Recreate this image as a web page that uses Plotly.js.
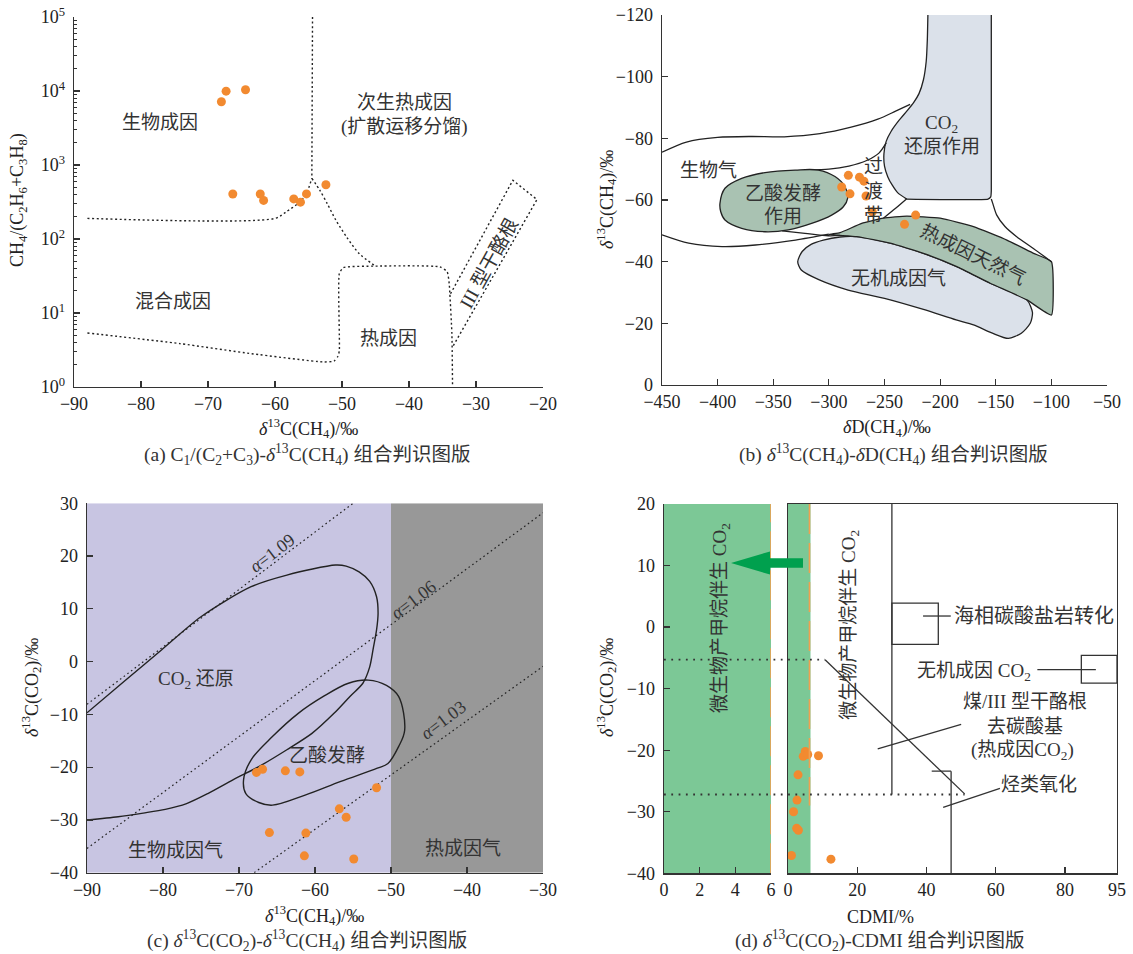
<!DOCTYPE html>
<html><head><meta charset="utf-8">
<script src="https://cdn.plot.ly/plotly-3.0.1.min.js"></script>
<style>html,body{margin:0;padding:0;background:#fff}</style>
</head><body><div id="chart" style="width:1133px;height:954px"></div>
<script>
// ---------- Panel (a) data ----------
const aCH4 = [-68.0,-67.3,-64.4,-66.3,-62.2,-61.7,-57.2,-56.2,-55.3,-52.4];
const aRatio = [7150,9950,10400,405,405,332,348,315,407,540];
// boundary lines (a)
const aL1x = [-88,-60,-58.3,-56.3,-55.3,-54.5];
const aL1y = [190,190,234,316,417,660];
const aL2x = [-54.4,-54.5];
const aL2y = [100000,660];
const aL3x = [-54.5,-53.3,-52.2,-50.9,-49.3,-47.4,-45.0];
const aL3y = [660,455,300,179,106,63,43];
const aL4x = [-88,-74.2,-63.5,-52.8,-51.2,-50.6,-50.4,-50.4,-49.8,-45.0,-35.4,-34.3,-34.0,-33.9,-33.6,-33.5];
const aL4y = [5.37,3.86,2.82,2.18,2.24,2.6,3.1,34,41,43,42,36,25,18,5.3,1];
const aL5x = [-33.8,-24.5,-20.9,-33.5];
const aL5y = [18.2,621,341,3.47];
const aYTickVals = [1,10,100,1000,10000,100000];
const aYTickText = ['10<sup>0</sup>','10<sup>1</sup>','10<sup>2</sup>','10<sup>3</sup>','10<sup>4</sup>','10<sup>5</sup>'];

// ---------- Panel (b) data ----------
const bD = [-282.5,-272.5,-268.5,-288.5,-281.0,-266.6,-261.0,-222.0,-232.0];
const bC = [-68.0,-67.4,-66.1,-64.2,-62.0,-61.3,-56.2,-55.1,-52.1];
const bOuterX = [-450,-428,-400,-370,-340,-308,-280,-256,-240,-227];
const bOuterY = [-75.5,-78.8,-80.3,-80.6,-80.5,-81.5,-83.6,-86.2,-88.8,-91.0];
const bInnerX = [-318,-300,-282,-266,-255,-248.5];
const bInnerY = [-69.8,-70.0,-71.0,-72.8,-75.2,-78.5];
const bLowerX = [-450,-426,-396,-366,-330,-300];
const bLowerY = [-48.7,-46.0,-44.9,-45.4,-47.0,-48.9];
const bTransX = [-230,-240,-251];
const bTransY = [-60.4,-57.3,-54.1];
const bRightX = [-154,-152.7,-149.1,-141.7,-131.2,-116.2,-100];
const bRightY = [-60.3,-58.9,-55.1,-51.4,-48.1,-44.3,-40.0];
const bAcetLineX = [-342,-321.5,-300.5,-290];
const bAcetLineY = [-50.0,-49.2,-48.4,-48.5];
const bThermX = [-300,-290,-270.5,-251,-230,-200,-170,-140,-116,-100,-100,-122,-155,-185,-215,-245,-275,-300];
const bThermY = [-48.8,-49.4,-52.4,-54.1,-54.8,-54.1,-51.4,-47.0,-42.7,-40.0,-22.7,-27.6,-33.0,-38.4,-42.7,-46.0,-48.1,-48.8];
// CO2-reduction field: curved left edge (top -> bottom corner), then straight bottom and right edge
const bCO2LeftX = [-211,-211.5,-212.5,-215,-219,-224,-230,-237,-244,-248.5,-250.5,-250,-247,-243,-238,-230];
const bCO2LeftY = [-120,-112,-105,-99,-94.5,-91.5,-88.8,-85.8,-82.3,-79,-75,-71,-67.5,-64.8,-62.3,-60.3];
const bCO2EdgeX = [-230,-157,-154.5,-154,-154];
const bCO2EdgeY = [-60.3,-60.3,-61,-63,-120];
const bInorgX = [-328,-324,-316,-305,-290,-275,-245,-215,-185,-155,-122,-117,-119,-127,-138.7,-153,-170,-185.6,-215,-250,-282.7,-308.6,-324.8,-328];
const bInorgY = [-40.0,-43.3,-45.6,-47.0,-48.0,-48.1,-46.0,-42.7,-38.4,-33.0,-27.6,-23.5,-20.0,-16.8,-15.1,-16.8,-19.5,-21.1,-24.5,-28.1,-30.8,-34.1,-37.3,-40.0];
const bAcetX = [-397.9,-393.4,-378.4,-357.4,-330.4,-309.5,-294.5,-285.5,-283.1,-287.0,-297.5,-315.5,-336.5,-357.4,-378.4,-393.4,-397.2,-397.9];
const bAcetY = [-58.9,-63.8,-67.0,-68.9,-69.7,-69.7,-67.6,-64.3,-60.6,-57.8,-55.1,-52.4,-50.3,-49.7,-50.8,-53.5,-56.2,-58.9];

// ---------- Panel (c) data ----------
const cCH4 = [-67.7,-66.9,-63.9,-62.0,-51.9,-56.8,-55.9,-66.0,-61.2,-61.4,-54.9];
const cCO2 = [-21.0,-20.4,-20.7,-20.9,-23.9,-27.9,-29.5,-32.4,-32.5,-36.8,-37.4];
const cCO2LoopX = [-90,-84.9,-80.2,-75,-68.4,-63.7,-57.3,-55.9,-54.2,-52.8,-51.9,-51.7,-51.9,-52.3,-52.8,-53.7,-55.4,-57.5,-60.4,-63.7,-67.4,-70.8,-74.1,-76.9,-79.7,-82.6,-85.9,-90];
const cCO2LoopY = [-9.7,-3.5,2.2,8.5,14.2,16.4,18.3,18.1,17.0,15.2,12.3,9.2,6.0,2.8,-1.0,-4.1,-6.6,-9.8,-13.6,-16.7,-19.9,-22.4,-25.0,-26.9,-28.0,-28.7,-29.4,-30.0];
const cAcetX = [-53.0,-50.6,-49.0,-48.2,-49.0,-50.4,-51.8,-56.6,-61.3,-65.6,-67.4,-69.1,-69.4,-68.4,-65.6,-62.2,-58.9,-55.6,-53.0];
const cAcetY = [-3.5,-4.5,-6.6,-13.0,-16.1,-19.3,-20.2,-22.7,-25.3,-27.2,-26.7,-25.0,-22.4,-18.6,-14.2,-9.8,-6.6,-4.1,-3.5];
const cA109X = [-90,-55.0], cA109Y = [-8.1,30];
const cA106X = [-90,-30], cA106Y = [-35.4,28.2];
const cA103X = [-68.0,-30], cA103Y = [-40,-0.9];

// ---------- Panel (d) data ----------
const dCDMI = [5.0,4.4,5.7,8.8,2.9,2.6,1.6,2.5,3.0,1.0,12.4];
const dCO2 = [-20.2,-21.0,-20.7,-20.9,-24.0,-28.1,-30.0,-32.7,-33.0,-37.1,-37.7];
const dLeftTicks = [0,2,4,6];
const dRightTicks = [0,20,40,60,80,95];

// ---------- helpers ----------
const W = 1133, H = 954;
const px = v => v / W;
const py = v => 1 - v / H;
const FONT = '"Liberation Serif","Noto Sans CJK SC",serif';
const TXT = '#333333';
const ORANGE = '#f28a30';
const BLUEG = '#dbe1ea';
const GREENG = '#a9c2b2';
const GREEN = '#7cc896';

function ax(domain, range, extra) {
  return Object.assign({
    domain: domain, range: range, showline: true, linecolor: '#333', linewidth: 1.4,
    ticks: 'inside', ticklen: 6, tickwidth: 1.2, tickcolor: '#333',
    showgrid: false, zeroline: false, fixedrange: true, ticklabelstandoff: 0,
    tickfont: {family: FONT, size: 18, color: '#222'}
  }, extra || {});
}
function ln(x, y, xa, ya, opt) {
  opt = opt || {};
  return {type: 'scatter', mode: 'lines', x: x, y: y, xaxis: xa, yaxis: ya, hoverinfo: 'skip',
    line: {color: opt.color || '#222', width: opt.width === undefined ? 1.3 : opt.width, dash: opt.dash || 'solid',
      shape: opt.shape || 'spline', smoothing: opt.smoothing === undefined ? 0.8 : opt.smoothing},
    fill: opt.fill || 'none', fillcolor: opt.fillcolor};
}
function pts(x, y, xa, ya) {
  return {type: 'scatter', mode: 'markers', x: x, y: y, xaxis: xa, yaxis: ya, hoverinfo: 'skip',
    marker: {color: ORANGE, size: 9, line: {width: 0}}, cliponaxis: false};
}
function T(text, x, y, xref, yref, o) {
  o = o || {};
  return {text: text, x: x, y: y, xref: xref, yref: yref, showarrow: false,
    font: {family: FONT, size: o.size || 19, color: o.color || TXT},
    xanchor: o.xanchor || 'center', yanchor: o.yanchor || 'middle', textangle: o.angle || 0};
}

const DOTA = '2px,2.6px';
const traces = [];
// (a)
traces.push(ln(aL1x, aL1y, 'x', 'y', {dash: DOTA, width: 1.4}));
traces.push(ln(aL2x, aL2y, 'x', 'y', {dash: DOTA, width: 1.4, shape: 'linear'}));
traces.push(ln(aL3x, aL3y, 'x', 'y', {dash: DOTA, width: 1.4}));
traces.push(ln(aL4x, aL4y, 'x', 'y', {dash: DOTA, width: 1.4, smoothing: 0.5}));
traces.push(ln(aL5x, aL5y, 'x', 'y', {dash: DOTA, width: 1.4, shape: 'linear'}));
traces.push(pts(aCH4, aRatio, 'x', 'y'));
// (b)
traces.push(ln(bInorgX, bInorgY, 'x2', 'y2', {fill: 'toself', fillcolor: BLUEG, smoothing: 0.7}));
traces.push(ln(bThermX, bThermY, 'x2', 'y2', {fill: 'toself', fillcolor: GREENG, smoothing: 0.4}));
// CO2 field fill (no outline), then outline pieces
traces.push({type: 'scatter', mode: 'lines', xaxis: 'x2', yaxis: 'y2', hoverinfo: 'skip',
  x: bCO2LeftX.concat(bCO2EdgeX.slice(1)), y: bCO2LeftY.concat(bCO2EdgeY.slice(1)),
  fill: 'toself', fillcolor: BLUEG, line: {width: 0, shape: 'linear'}});
traces.push(ln(bCO2LeftX, bCO2LeftY, 'x2', 'y2', {smoothing: 0.6}));
traces.push(ln(bCO2EdgeX, bCO2EdgeY, 'x2', 'y2', {smoothing: 0.4}));
traces.push(ln(bOuterX, bOuterY, 'x2', 'y2'));
traces.push(ln(bInnerX, bInnerY, 'x2', 'y2'));
traces.push(ln(bLowerX, bLowerY, 'x2', 'y2'));
traces.push(ln(bTransX, bTransY, 'x2', 'y2'));
traces.push(ln(bRightX, bRightY, 'x2', 'y2'));
traces.push(ln(bAcetLineX, bAcetLineY, 'x2', 'y2'));
traces.push(ln(bAcetX, bAcetY, 'x2', 'y2', {fill: 'toself', fillcolor: GREENG, smoothing: 1}));
traces.push(pts(bD, bC, 'x2', 'y2'));
// (c)
traces.push(ln(cA109X, cA109Y, 'x3', 'y3', {dash: '1.6px,3px', width: 1.2, shape: 'linear'}));
traces.push(ln(cA106X, cA106Y, 'x3', 'y3', {dash: '1.6px,3px', width: 1.2, shape: 'linear'}));
traces.push(ln(cA103X, cA103Y, 'x3', 'y3', {dash: '1.6px,3px', width: 1.2, shape: 'linear'}));
traces.push(ln(cCO2LoopX, cCO2LoopY, 'x3', 'y3', {width: 1.4}));
traces.push(ln(cAcetX, cAcetY, 'x3', 'y3', {width: 1.4, smoothing: 1}));
traces.push(pts(cCH4, cCO2, 'x3', 'y3'));
// (d)
traces.push(pts(dCDMI, dCO2, 'x5', 'y5'));

// pixel helpers for the right (d) panel, for decorations crossing both sub-panels
const y5pix = v => 504 + (20 - v) * (873.3 - 504) / 60;
const x5pix = v => 788 + v * (1117 - 788) / 95;

const shapes = [
  // (c) backgrounds
  {type: 'rect', xref: 'x3', yref: 'y3', x0: -90, x1: -50, y0: -40, y1: 30, fillcolor: '#c8c5e2', line: {width: 0}, layer: 'below'},
  {type: 'rect', xref: 'x3', yref: 'y3', x0: -50, x1: -30, y0: -40, y1: 30, fillcolor: '#989898', line: {width: 0}, layer: 'below'},
  // (d) green bands
  {type: 'rect', xref: 'x4', yref: 'y4', x0: 0, x1: 6, y0: -40, y1: 20, fillcolor: GREEN, line: {width: 0}, layer: 'below'},
  {type: 'rect', xref: 'x5', yref: 'y5', x0: 0, x1: 6.5, y0: -40, y1: 20, fillcolor: GREEN, line: {width: 0}, layer: 'below'},
  // orange dashed
  {type: 'line', xref: 'x4', yref: 'y4', x0: 6, x1: 6, y0: -40, y1: 20, line: {color: '#f0a050', width: 1.6, dash: '30px,9px'}},
  {type: 'line', xref: 'x5', yref: 'y5', x0: 6.2, x1: 6.2, y0: 20, y1: -29, line: {color: '#f0a050', width: 1.6, dash: '30px,9px'}},
  // right-panel structure
  {type: 'line', xref: 'x5', yref: 'y5', x0: 30, x1: 30, y0: 20, y1: -27.2, line: {color: '#333', width: 1.3}},
  {type: 'rect', xref: 'x5', yref: 'y5', x0: 30, x1: 43.4, y0: 3.9, y1: -2.8, line: {color: '#333', width: 1.3}},
  {type: 'line', xref: 'x5', yref: 'y5', x0: 39, x1: 47, y0: 1.8, y1: 1.8, line: {color: '#333', width: 1.3}},
  {type: 'rect', xref: 'x5', yref: 'y5', x0: 84.7, x1: 95, y0: -4.6, y1: -9.1, line: {color: '#333', width: 1.3}},
  {type: 'line', xref: 'x5', yref: 'y5', x0: 72, x1: 88.9, y0: -6.9, y1: -6.9, line: {color: '#333', width: 1.3}},
  {type: 'line', xref: 'x5', yref: 'y5', x0: 25.9, x1: 50, y0: -19.8, y1: -15.8, line: {color: '#333', width: 1.3}},
  {type: 'line', xref: 'x5', yref: 'y5', x0: 10.7, x1: 51, y0: -5.3, y1: -27.1, line: {color: '#333', width: 1.3}},
  {type: 'line', xref: 'x5', yref: 'y5', x0: 41.5, x1: 47.1, y0: -23.4, y1: -23.4, line: {color: '#333', width: 1.3}},
  {type: 'line', xref: 'x5', yref: 'y5', x0: 47.1, x1: 47.1, y0: -23.4, y1: -40, line: {color: '#333', width: 1.3}},
  {type: 'line', xref: 'x5', yref: 'y5', x0: 44.8, x1: 61.2, y0: -29.3, y1: -26.2, line: {color: '#333', width: 1.3}},
  // dotted horizontals across both (d) panels
  {type: 'line', xref: 'paper', yref: 'paper', x0: px(664), x1: px(x5pix(10.7)), y0: py(y5pix(-5.3)), y1: py(y5pix(-5.3)), line: {color: '#333', width: 1.8, dash: '1.8px,5.5px'}},
  {type: 'line', xref: 'paper', yref: 'paper', x0: px(664), x1: px(x5pix(51)), y0: py(y5pix(-27.2)), y1: py(y5pix(-27.2)), line: {color: '#333', width: 1.8, dash: '1.8px,5.5px'}},
  // green arrow
  {type: 'path', xref: 'paper', yref: 'paper', fillcolor: '#00a04e', line: {width: 0},
   path: 'M ' + px(731) + ' ' + py(563) + ' L ' + px(770) + ' ' + py(551.5) + ' L ' + px(770) + ' ' + py(558.3) +
         ' L ' + px(803) + ' ' + py(558.3) + ' L ' + px(803) + ' ' + py(567.7) + ' L ' + px(770) + ' ' + py(567.7) +
         ' L ' + px(770) + ' ' + py(574.5) + ' Z'}
];

const P = 'paper';
const d13CH4 = '<i>δ</i><sup>13</sup>C(CH<sub>4</sub>)/‰';
const d13CO2 = '<i>δ</i><sup>13</sup>C(CO<sub>2</sub>)/‰';
const CAP = 19.5;
const annotations = [
  // axis titles
  T(d13CH4, px(308), py(428), P, P, {size: 18, color: '#222'}),
  T('CH<sub>4</sub>/(C<sub>2</sub>H<sub>6</sub>+C<sub>3</sub>H<sub>8</sub>)', px(18), py(200), P, P, {size: 18, color: '#222', angle: -90}),
  T('<i>δ</i>D(CH<sub>4</sub>)/‰', px(887), py(428), P, P, {size: 18, color: '#222'}),
  T(d13CH4, px(606), py(200), P, P, {size: 18, color: '#222', angle: -90}),
  T(d13CH4, px(315), py(915), P, P, {size: 18, color: '#222'}),
  T(d13CO2, px(31), py(688), P, P, {size: 18, color: '#222', angle: -90}),
  T('CDMI/%', px(880), py(917), P, P, {size: 18, color: '#222'}),
  T(d13CO2, px(606), py(688), P, P, {size: 18, color: '#222', angle: -90}),
  // captions
  T('(a) C<sub>1</sub>/(C<sub>2</sub>+C<sub>3</sub>)-<i>δ</i><sup>13</sup>C(CH<sub>4</sub>) 组合判识图版', px(307), py(455), P, P, {size: CAP}),
  T('(b) <i>δ</i><sup>13</sup>C(CH<sub>4</sub>)-<i>δ</i>D(CH<sub>4</sub>) 组合判识图版', px(893), py(455), P, P, {size: CAP}),
  T('(c) <i>δ</i><sup>13</sup>C(CO<sub>2</sub>)-<i>δ</i><sup>13</sup>C(CH<sub>4</sub>) 组合判识图版', px(307), py(940), P, P, {size: CAP}),
  T('(d) <i>δ</i><sup>13</sup>C(CO<sub>2</sub>)-CDMI 组合判识图版', px(880), py(940), P, P, {size: CAP}),
  // (a) region labels (log axis: y given as log10)
  T('生物成因', -77.1, 3.57, 'x', 'y'),
  T('次生热成因', -40.7, 3.85, 'x', 'y'),
  T('(扩散运移分馏)', -40.7, 3.51, 'x', 'y'),
  T('混合成因', -75.2, 1.15, 'x', 'y'),
  T('热成因', -43.0, 0.65, 'x', 'y'),
  T('III 型干酪根', -28.1, 1.67, 'x', 'y', {angle: -61}),
  // (b) region labels
  T('CO<sub>2</sub>', -198.6, -84.7, 'x2', 'y2'),
  T('还原作用', -198.6, -77.3, 'x2', 'y2'),
  T('生物气', -408.4, -69.7, 'x2', 'y2'),
  T('乙酸发酵', -341, -62.2, 'x2', 'y2'),
  T('作用', -341, -54.6, 'x2', 'y2'),
  T('过<br>渡<br>带', -260, -63.0, 'x2', 'y2'),
  T('热成因天然气', -170.2, -42.2, 'x2', 'y2', {angle: 26}),
  T('无机成因气', -237.6, -34.6, 'x2', 'y2'),
  // (c) labels
  T('CO<sub>2</sub> 还原', -75.6, -3.5, 'x3', 'y3'),
  T('乙酸发酵', -58.4, -17.8, 'x3', 'y3'),
  T('生物成因气', -78.3, -35.8, 'x3', 'y3'),
  T('热成因气', -40.5, -35.4, 'x3', 'y3'),
  T('<i>α</i>=1.09', -65.6, 20.5, 'x3', 'y3', {size: 18, angle: -37}),
  T('<i>α</i>=1.06', -47.1, 11.7, 'x3', 'y3', {size: 18, angle: -37}),
  T('<i>α</i>=1.03', -43.1, -11.1, 'x3', 'y3', {size: 18, angle: -37}),
  // (d) labels
  T('微生物产甲烷伴生 CO<sub>2</sub>', 3.2, 1.5, 'x4', 'y4', {angle: -90}),
  T('微生物产甲烷伴生 CO<sub>2</sub>', 17.9, 0.4, 'x5', 'y5', {angle: -90}),
  T('海相碳酸盐岩转化', 47.3, 1.8, 'x5', 'y5', {xanchor: 'left', size: 20}),
  T('无机成因 CO<sub>2</sub>', 70.6, -7.3, 'x5', 'y5', {xanchor: 'right'}),
  T('煤/III 型干酪根', 68.5, -12.1, 'x5', 'y5'),
  T('去碳酸基', 68.5, -16.2, 'x5', 'y5'),
  T('(热成因CO<sub>2</sub>)', 67.7, -20.1, 'x5', 'y5'),
  T('烃类氧化', 72.4, -25.5, 'x5', 'y5')
];

const minorA = [];
for (let k = 0; k < 5; k++) for (let m = 2; m < 10; m++) minorA.push(m * Math.pow(10, k));

const YL = {ticklabelstandoff: 4};
const layout = {
  width: W, height: H, margin: {l: 0, r: 0, t: 0, b: 0},
  paper_bgcolor: '#fff', plot_bgcolor: 'rgba(0,0,0,0)', showlegend: false,
  font: {family: FONT, color: '#222'},
  xaxis: ax([px(74), px(543)], [-90, -20], {anchor: 'y', dtick: 10}),
  yaxis: ax([py(387), py(17)], [0, 5], Object.assign({anchor: 'x', type: 'log', tickmode: 'array', tickvals: aYTickVals, ticktext: aYTickText,
    minor: {tickmode: 'array', tickvals: minorA, ticks: 'inside', ticklen: 3, tickcolor: '#333', tickwidth: 1}}, YL)),
  xaxis2: ax([px(662), px(1107)], [-450, -50], {anchor: 'y2', dtick: 50}),
  yaxis2: ax([py(385), py(15)], [0, -120], Object.assign({anchor: 'x2', dtick: 20}, YL)),
  xaxis3: ax([px(87), px(543)], [-90, -30], {anchor: 'y3', dtick: 10}),
  yaxis3: ax([py(872.7), py(503.3)], [-40, 30], Object.assign({anchor: 'x3', dtick: 10}, YL)),
  xaxis4: ax([px(664), px(771)], [0, 6], {anchor: 'y4', tickmode: 'array', tickvals: dLeftTicks}),
  yaxis4: ax([py(873.3), py(504)], [-40, 20], Object.assign({anchor: 'x4', dtick: 10}, YL)),
  xaxis5: ax([px(788), px(1117)], [0, 95], {anchor: 'y5', tickmode: 'array', tickvals: dRightTicks, mirror: true}),
  yaxis5: ax([py(873.3), py(504)], [-40, 20], {anchor: 'x5', showticklabels: false, ticks: '', mirror: true}),
  shapes: shapes,
  annotations: annotations
};

Plotly.newPlot('chart', traces, layout, {staticPlot: true, displayModeBar: false});
</script>
</body></html>
